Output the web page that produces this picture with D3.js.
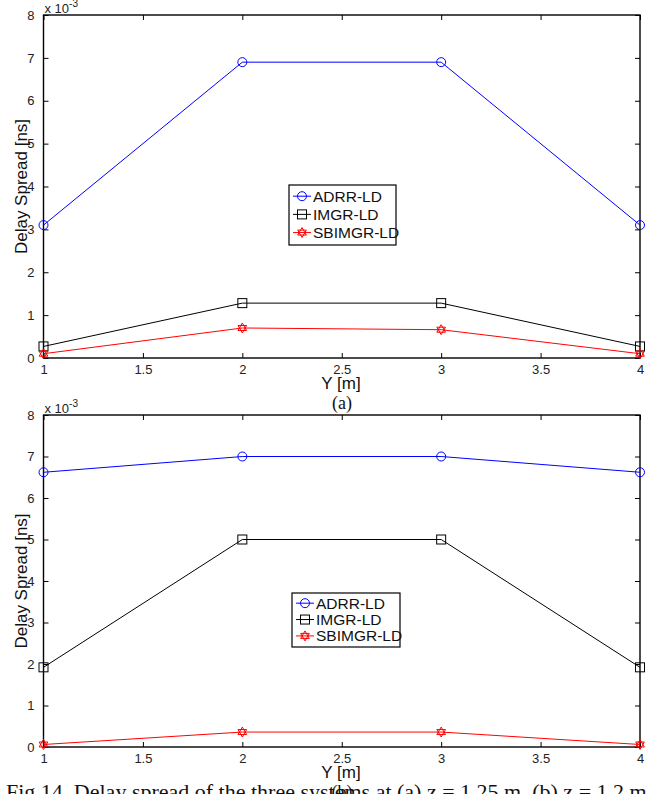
<!DOCTYPE html>
<html>
<head>
<meta charset="utf-8">
<script src="https://cdn.jsdelivr.net/npm/d3@7"></script>
<style>
  html, body { margin: 0; padding: 0; background: #fff; }
  svg { display: block; }
</style>
</head>
<body>
<svg id="chart" width="656" height="794"></svg>
<script>
// Receiver positions along Y [m]
const yPositions = [1, 2, 3, 4];
const xTicks = [1, 1.5, 2, 2.5, 3, 3.5, 4];
const yTicks = [0, 1, 2, 3, 4, 5, 6, 7, 8];
const seriesNames = ["ADRR-LD", "IMGR-LD", "SBIMGR-LD"];
const seriesColors = ["#0000ff", "#000000", "#ff0000"];
const seriesMarkers = ["circle", "square", "hexagram"];

// Delay spread values (x 10^-3 ns), panel (a)
const adrrA = [3.1, 6.9, 6.9, 3.1];
const imgrA = [0.27, 1.28, 1.28, 0.27];
const sbimgrA = [0.1, 0.7, 0.66, 0.1];

// Delay spread values (x 10^-3 ns), panel (b)
const adrrB = [6.62, 7.0, 7.0, 6.62];
const imgrB = [1.92, 5.0, 5.0, 1.92];
const sbimgrB = [0.06, 0.36, 0.36, 0.06];

const panels = [
  { top: 15, bottom: 358, label: "(a)", data: [adrrA, imgrA, sbimgrA],
    legend: { x: 289, y: 185, w: 107, h: 60 } },
  { top: 415, bottom: 747, label: "(b)", data: [adrrB, imgrB, sbimgrB],
    legend: { x: 292, y: 593, w: 108, h: 54 } }
];

const left = 43.5, right = 640;
const svg = d3.select("#chart");
const sansFont = "Helvetica, Arial, 'Liberation Sans', sans-serif";
const serifFont = "'Times New Roman', 'Liberation Serif', 'DejaVu Serif', serif";

function drawMarker(g, kind, cx, cy, color) {
  if (kind === "circle") {
    g.append("circle").attr("cx", cx).attr("cy", cy).attr("r", 4.5)
      .attr("fill", "none").attr("stroke", color).attr("stroke-width", 1);
  } else if (kind === "square") {
    g.append("rect").attr("x", cx - 4.5).attr("y", cy - 4.5)
      .attr("width", 9).attr("height", 9)
      .attr("fill", "none").attr("stroke", color).attr("stroke-width", 1);
  } else {
    // six-pointed star built from two triangles
    const r = 5;
    const tri = a0 => d3.range(3).map(i => {
      const a = a0 + i * 2 * Math.PI / 3;
      return [cx + r * Math.sin(a), cy - r * Math.cos(a)];
    });
    [0, Math.PI].forEach(a0 => {
      g.append("polygon").attr("points", tri(a0).map(p => p.join(",")).join(" "))
        .attr("fill", "none").attr("stroke", color).attr("stroke-width", 1);
    });
  }
}

panels.forEach(p => {
  const x = d3.scaleLinear().domain([1, 4]).range([left, right]);
  const y = d3.scaleLinear().domain([0, 8]).range([p.bottom, p.top]);
  const g = svg.append("g");

  // Bottom axis with inward ticks
  const xAxis = d3.axisBottom(x).tickValues(xTicks).tickSizeInner(-5).tickSizeOuter(0)
    .tickPadding(7).tickFormat(d3.format("~g"));
  const gx = g.append("g").attr("transform", `translate(0,${p.bottom})`).call(xAxis);
  gx.select(".domain").remove();
  gx.selectAll("text").attr("font-family", sansFont).attr("font-size", 13).attr("fill", "#222");

  // Top border ticks
  const gxt = g.append("g").attr("transform", `translate(0,${p.top})`)
    .call(d3.axisTop(x).tickValues(xTicks).tickSizeInner(-5).tickSizeOuter(0).tickFormat(""));
  gxt.select(".domain").remove();

  // Left axis
  const yAxis = d3.axisLeft(y).tickValues(yTicks).tickSizeInner(-5).tickSizeOuter(0).tickPadding(9);
  const gy = g.append("g").attr("transform", `translate(${left},0)`).call(yAxis);
  gy.select(".domain").remove();
  gy.selectAll("text").attr("font-family", sansFont).attr("font-size", 13).attr("fill", "#222");

  // Right border ticks
  const gyr = g.append("g").attr("transform", `translate(${right},0)`)
    .call(d3.axisRight(y).tickValues(yTicks).tickSizeInner(-5).tickSizeOuter(0).tickFormat(""));
  gyr.select(".domain").remove();

  g.selectAll(".tick line").attr("stroke", "#000").attr("stroke-width", 1);

  // Axes box
  g.append("rect").attr("x", left).attr("y", p.top)
    .attr("width", right - left).attr("height", p.bottom - p.top)
    .attr("fill", "none").attr("stroke", "#000").attr("stroke-width", 1.4);

  // Exponent label
  const ex = g.append("text").attr("x", left + 1).attr("y", p.top - 2)
    .attr("font-family", sansFont).attr("font-size", 13).attr("fill", "#222");
  ex.append("tspan").text("x 10");
  ex.append("tspan").attr("dy", -6).attr("font-size", 10).text("-3");

  // Axis titles
  g.append("text")
    .attr("transform", `translate(27,${(p.top + p.bottom) / 2}) rotate(-90)`)
    .attr("text-anchor", "middle").attr("font-family", sansFont).attr("font-size", 17)
    .attr("fill", "#111").text("Delay Spread [ns]");
  g.append("text").attr("x", 341).attr("y", p.bottom + 31)
    .attr("text-anchor", "middle").attr("font-family", sansFont).attr("font-size", 17)
    .attr("fill", "#111").text("Y [m]");
  g.append("text").attr("x", 342).attr("y", p.bottom + 51)
    .attr("text-anchor", "middle").attr("font-family", serifFont).attr("font-size", 18)
    .attr("fill", "#111").text(p.label);

  // Series lines and markers
  const line = d3.line().x((d, i) => x(yPositions[i])).y(d => y(d));
  p.data.forEach((vals, si) => {
    const col = seriesColors[si];
    g.append("path").attr("d", line(vals)).attr("fill", "none")
      .attr("stroke", col).attr("stroke-width", 1);
    vals.forEach((v, i) => drawMarker(g, seriesMarkers[si], x(yPositions[i]), y(v), col));
  });

  // Legend
  const L = p.legend;
  const lg = g.append("g");
  lg.append("rect").attr("x", L.x).attr("y", L.y).attr("width", L.w).attr("height", L.h)
    .attr("fill", "#fff").attr("stroke", "#000").attr("stroke-width", 1.2);
  const rowH = L.h / 3.3;
  seriesNames.forEach((name, si) => {
    const cy = L.y + L.h * 0.17 + si * rowH + 1;
    const col = seriesColors[si];
    lg.append("line").attr("x1", L.x + 4).attr("x2", L.x + 22).attr("y1", cy).attr("y2", cy)
      .attr("stroke", col).attr("stroke-width", 1);
    drawMarker(lg, seriesMarkers[si], L.x + 13, cy, col);
    lg.append("text").attr("x", L.x + 24).attr("y", cy + 5.5)
      .attr("font-family", sansFont).attr("font-size", 15.5).attr("fill", "#111").text(name);
  });
});

// Figure caption
svg.append("text").attr("x", 6).attr("y", 799)
  .attr("font-family", serifFont).attr("font-size", 22).attr("fill", "#111")
  .text("Fig.14. Delay spread of the three systems at (a) z = 1.25 m, (b) z = 1.2 m");
</script>
</body>
</html>
